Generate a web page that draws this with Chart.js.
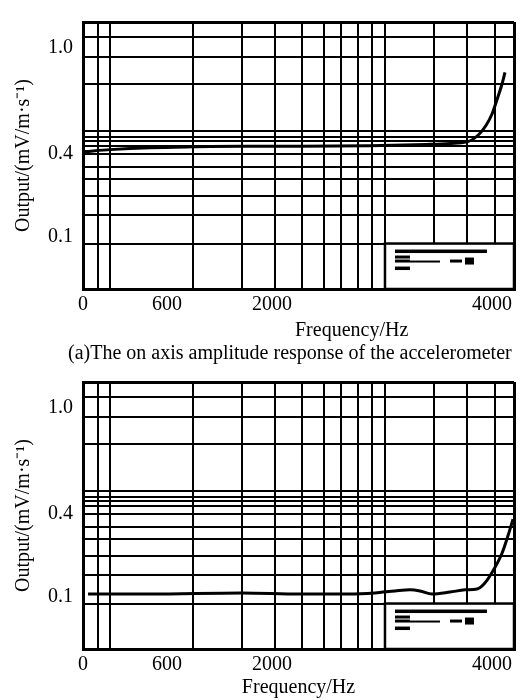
<!DOCTYPE html>
<html>
<head>
<meta charset="utf-8">
<script src="https://cdn.jsdelivr.net/npm/chart.js@4.4.1/dist/chart.umd.min.js"></script>
<style>
html,body{margin:0;padding:0;background:#fff;}
#wrap{position:relative;width:524px;height:700px;overflow:hidden;background:#fff;}
.cbox{position:absolute;left:0;width:524px;height:340px;}
.txt{position:absolute;font-family:"Liberation Serif","Times New Roman",serif;font-size:20px;line-height:24px;color:#000;white-space:nowrap;}
</style>
</head>
<body>
<div id="wrap">
  <div class="cbox" style="top:0"><canvas id="c1" width="524" height="340"></canvas></div>
  <div class="txt" style="left:295px;top:317px">Frequency/Hz</div>
  <div class="txt" style="left:68px;top:340px">(a)The on axis amplitude response of the accelerometer</div>
  <div class="cbox" style="top:360px"><canvas id="c2" width="524" height="340"></canvas></div>
</div>
<script>
// ---------- data ----------
const xTickLabelsHz = [0, 600, 2000, 4000];
const yTickLabels = [0.1, 0.4, 1.0];
const xGridHz = [107, 193, 947, 1600, 2027, 2273, 2473, 2627, 2782, 2909, 3027, 3473, 3773, 4027];
const yGridVals = [1.108, 0.948, 0.795, 0.528, 0.498, 0.471, 0.444, 0.4, 0.353, 0.3105, 0.249, 0.179, 0.0922];

const onAxisFreq   = [14, 193, 479, 947, 1600, 2255, 2891, 3436, 3773, 3873, 3945, 4000, 4055, 4091, 4118];
const onAxisOutput = [0.414, 0.425, 0.436, 0.441, 0.444, 0.444, 0.447, 0.455, 0.469, 0.506, 0.561, 0.626, 0.725, 0.795, 0.86];

const crossFreq   = [36, 479, 1600, 2255, 2700, 2936, 3118, 3255, 3345, 3455, 3618, 3755, 3864, 3927, 4000, 4091, 4145, 4191];
const crossOutput = [0.110, 0.110, 0.114, 0.110, 0.110, 0.114, 0.121, 0.125, 0.121, 0.110, 0.117, 0.125, 0.128, 0.146, 0.188, 0.258, 0.321, 0.381];

// scale breakpoints (value -> fraction of axis length) of the recorder paper
const xBreakHz  = [0, 600, 2000, 4000, 4200];
const xBreakPos = [0, 0.1949, 0.4385, 0.9490, 1];
const yBreakVal = [0.04, 0.1, 0.4, 1.0, 1.25];
const yBreakPos = [0, 0.1957, 0.5054, 0.904, 1];

// legend box (illegible legend of the original) anchored on paper values
const legendLeftHz = 3027;
const legendTopVal = 0.0922;
const legendMarks = [[10,6,92,3.5],[10,12,15,3],[10,16,15,3],[25,17,30,2],[65,16,12,3],[80,14,9,7],[10,23,15,3.5]];

// ---------- piecewise paper scale ----------
function interp(v, xs, ys) {
  const n = xs.length;
  let i = 1;
  while (i < n - 1 && v > xs[i]) i++;
  const t = (v - xs[i-1]) / (xs[i] - xs[i-1]);
  return ys[i-1] + t * (ys[i] - ys[i-1]);
}
class PaperScale extends Chart.LinearScale {
  _maps() { return this.axis === 'x' ? [xBreakHz, xBreakPos] : [yBreakVal, yBreakPos]; }
  getPixelForValue(value) {
    if (value === null || value === undefined || isNaN(value)) return NaN;
    const [vs, ps] = this._maps();
    return this.getPixelForDecimal(interp(+value, vs, ps));
  }
  getValueForPixel(pixel) {
    const [vs, ps] = this._maps();
    return interp(this.getDecimalForPixel(pixel), ps, vs);
  }
}
PaperScale.id = 'paper';
PaperScale.defaults = Chart.LinearScale.defaults;
Chart.register(PaperScale);

Chart.defaults.font.family = '"Liberation Serif","Times New Roman",serif';
Chart.defaults.font.size = 20;
Chart.defaults.color = '#000';

const legendBox = {
  id: 'legendBox',
  beforeDatasetsDraw(chart) {
    const {ctx, chartArea: a, scales: {x, y}} = chart;
    const l = x.getPixelForValue(legendLeftHz), t = y.getPixelForValue(legendTopVal);
    ctx.save();
    ctx.fillStyle = '#fff';
    ctx.fillRect(l, t, a.right - l, a.bottom - t);
    ctx.strokeStyle = '#000';
    ctx.lineWidth = 2.5;
    ctx.strokeRect(l, t, a.right - l, a.bottom - t);
    ctx.fillStyle = '#000';
    legendMarks.forEach(([dx, dy, w, h]) => ctx.fillRect(l + dx, t + dy, w, h));
    ctx.restore();
  }
};

const xTicks = Array.from(new Set([...xTickLabelsHz, ...xGridHz, 4200])).sort((a, b) => a - b);
const yTicks = Array.from(new Set([0.04, ...yTickLabels, ...yGridVals, 1.25])).sort((a, b) => a - b);

function makeChart(id, freq, out, withXTitle) {
  const pts = freq.map((f, i) => ({x: f, y: out[i]}));
  return new Chart(document.getElementById(id), {
    type: 'line',
    data: { datasets: [{ data: pts, borderColor: '#000', borderWidth: 3, pointRadius: 0,
      cubicInterpolationMode: 'monotone', fill: false }] },
    options: {
      responsive: false, animation: false, devicePixelRatio: 1,
      layout: { padding: { top: 13, right: 10, left: 0, bottom: 0 } },
      plugins: { legend: { display: false }, tooltip: { enabled: false } },
      scales: {
        x: {
          type: 'paper', min: 0, max: 4200,
          afterBuildTicks: s => { s.ticks = xTicks.map(v => ({value: v})); },
          afterFit: s => { s.height = 51; },
          ticks: {
            autoSkip: false, maxRotation: 0, minRotation: 0, padding: 4,
            callback: v => xTickLabelsHz.includes(v) ? String(v) : ''
          },
          grid: {
            drawTicks: false,
            color: c => (c.tick && xTickLabelsHz.includes(c.tick.value) && c.tick.value !== 0) ? 'rgba(0,0,0,0)' : '#000',
            lineWidth: c => (c.tick && (c.tick.value === 4200 || c.tick.value === 0)) ? 3 : 2
          },
          border: { display: true, color: '#000', width: 3 },
          title: { display: withXTitle, text: 'Frequency/Hz', padding: { top: 0, bottom: 0 } }
        },
        y: {
          type: 'paper', min: 0.04, max: 1.25,
          afterBuildTicks: s => { s.ticks = yTicks.map(v => ({value: v})); },
          afterFit: s => { s.width = 83; },
          ticks: {
            autoSkip: false, padding: 10,
            callback: v => yTickLabels.includes(v) ? v.toFixed(1) : ''
          },
          grid: {
            drawTicks: false,
            color: c => (c.tick && (c.tick.value === 1.0 || c.tick.value === 0.1)) ? 'rgba(0,0,0,0)' : '#000',
            lineWidth: c => (c.tick && (c.tick.value === 1.25 || c.tick.value === 0.04)) ? 3 : 2
          },
          border: { display: true, color: '#000', width: 3 },
          title: { display: true, text: 'Output/(mV/m·s⁻¹)', padding: { top: 12, bottom: 0 } }
        }
      }
    },
    plugins: [legendBox]
  });
}

makeChart('c1', onAxisFreq, onAxisOutput, false);
makeChart('c2', crossFreq, crossOutput, true);
</script>
</body>
</html>
